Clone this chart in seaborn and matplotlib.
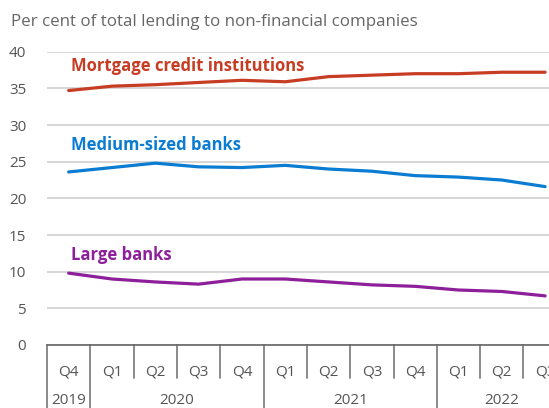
import matplotlib
matplotlib.use("Agg")
import matplotlib.pyplot as plt
import matplotlib.transforms as mtransforms
import numpy as np
import pandas as pd
import seaborn as sns

# Quarterly observations, Q4 2019 - Q3 2022
quarters = ["Q4", "Q1", "Q2", "Q3", "Q4", "Q1", "Q2", "Q3", "Q4", "Q1", "Q2", "Q3"]
years = ["2019", "2020", "2021", "2022"]
year_spans = [(0, 0), (1, 4), (5, 8), (9, 11)]

mortgage = [34.7, 35.3, 35.5, 35.8, 36.1, 35.9, 36.6, 36.8, 37.0, 37.0, 37.2, 37.2]
medium = [23.6, 24.2, 24.8, 24.3, 24.2, 24.5, 24.0, 23.7, 23.1, 22.9, 22.5, 21.6]
large = [9.8, 9.0, 8.6, 8.3, 9.0, 9.0, 8.6, 8.2, 8.0, 7.5, 7.3, 6.7]

series_names = ["Mortgage credit institutions", "Medium-sized banks", "Large banks"]
series_colors = ["#C63D24", "#0A7CD2", "#8E1F9B"]
label_y = [38.0, 27.3, 12.3]

y_ticks = [0, 5, 10, 15, 20, 25, 30, 35, 40]
title = "Per cent of total lending to non-financial companies"

sns.set_theme(style="white")
plt.rcParams["font.family"] = ["Open Sans", "DejaVu Sans"]

df = pd.DataFrame({
    "x": np.tile(np.arange(len(quarters)), 3),
    "value": mortgage + medium + large,
    "series": np.repeat(series_names, len(quarters)),
})

W, H = 549, 408
fig = plt.figure(figsize=(W / 100, H / 100), dpi=100)
ax_left, ax_right, ax_bottom, ax_top = 47, 549, 345, 51.7
ax = fig.add_axes([ax_left / W, (H - ax_bottom) / H,
                   (ax_right - ax_left) / W, (ax_bottom - ax_top) / H])

sns.lineplot(data=df, x="x", y="value", hue="series", hue_order=series_names,
             palette=series_colors, linewidth=2.3, legend=False, ax=ax)

ax.set_xlabel("")
ax.set_ylabel("")

# horizontal gridlines
ax.set_yticks(y_ticks)
ax.set_yticklabels([str(t) for t in y_ticks], fontsize=11, color="#555555")
ax.yaxis.grid(True, color="#d6d6d6", linewidth=1.4)
ax.set_axisbelow(True)
ax.tick_params(axis="y", length=0, pad=15)
for lab in ax.get_yticklabels():
    lab.set_horizontalalignment("right")

for s in ["top", "right", "left"]:
    ax.spines[s].set_visible(False)
ax.spines["bottom"].set_color("#666666")
ax.spines["bottom"].set_linewidth(1.2)

# quarter boundaries as short ticks above the axis
bounds = np.arange(-0.5, len(quarters) + 0.5, 1.0)
ax.set_xticks(bounds)
ax.set_xticklabels([])
ax.tick_params(axis="x", which="major", direction="in", length=4.5,
               width=1.2, color="#666666")
ax.set_xticks(np.arange(len(quarters)), minor=True)
ax.set_xticklabels(quarters, minor=True, fontsize=11, color="#555555")
ax.tick_params(axis="x", which="minor", length=0, pad=14)

# the last quarter runs past the right edge of the frame
ax.set_xlim(-0.5, 11.09)
ax.set_ylim(0, 40)

trans = mtransforms.blended_transform_factory(ax.transData, ax.transAxes)
ax_h = ax_bottom - ax_top
q_depth = -33 / ax_h
y_depth = -(H - ax_bottom) / ax_h
year_bounds = [s[0] - 0.5 for s in year_spans]
for b in bounds:
    depth = y_depth if b in year_bounds else q_depth
    ax.plot([b, b], [0, depth], transform=trans, color="#777777",
            linewidth=1.2, clip_on=False)

for yr, (a, b) in zip(years, year_spans):
    ax.text((a + b) / 2, -56 / ax_h, yr, transform=trans, ha="center",
            va="center", fontsize=11, color="#555555")

# series labels
for name, col, yv in zip(series_names, series_colors, label_y):
    ax.text(0.05, yv, name, color=col, fontsize=12, fontweight="bold",
            ha="left", va="center")

fig.text(11 / W, 1 - 22 / H, title, fontsize=12.2, color="#666666",
         ha="left", va="center")

fig.savefig("out.png", dpi=100)
